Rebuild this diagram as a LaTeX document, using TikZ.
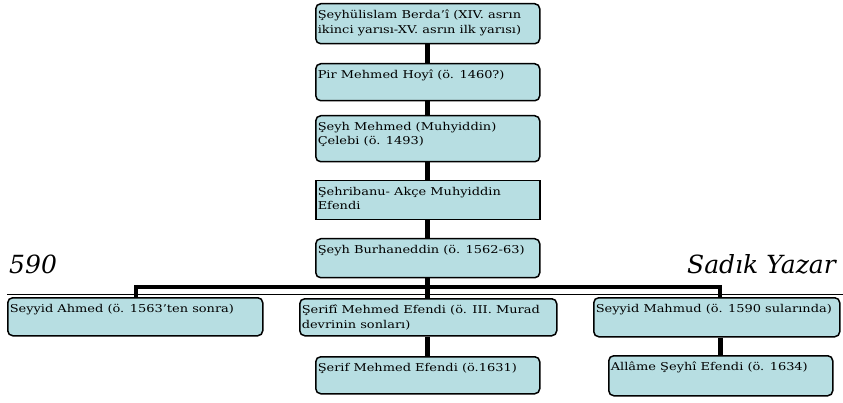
\documentclass[tikz,border=0pt]{standalone}
\usepackage{fontspec}
\setmainfont{DejaVu Serif}[FakeStretch=1.2]
\newfontfamily\headfont{DejaVu Serif}
\definecolor{boxcyan}{RGB}{183,222,226}
\newcommand{\celltext}[3]{\parbox[t][#2][t]{#1}{#3}}
\tikzset{
  pbox/.style={draw, line width=1.5pt, rounded corners=5pt, fill=boxcyan,
    anchor=north west, inner xsep=2pt, inner ysep=6.5pt,
    font=\fontsize{10.8}{14.5}\selectfont},
  sbox/.style={pbox, sharp corners},
  trunk/.style={line width=5pt},
  bus/.style={line width=4pt},
  headtext/.style={font=\headfont\fontsize{25}{25}\selectfont\itshape, inner sep=0pt},
}

\begin{document}
\begin{tikzpicture}[x=1pt,y=-1pt]
  \useasboundingbox (0,0) rectangle (843,403);
  % page header
  \node[headtext, anchor=base west] (pg) at (9,273) {590};
  \node[headtext, anchor=base east] (au) at (836,273) {Sadık Yazar};
  \coordinate (ruleL) at (7,294.5);
  \coordinate (ruleR) at (843,294.5);
  % line of descent
  \node[pbox] (b1) at (315,3) {\celltext{220pt}{27pt}{Şeyhülislam Berda'î (XIV. asrın\\ikinci yarısı-XV. asrın ilk yarısı)}};
  \node[pbox] (b2) at (315,63) {\celltext{220pt}{24pt}{Pir Mehmed Hoyî (ö. 1460?)}};
  \node[pbox] (b3) at (315,115) {\celltext{220pt}{33pt}{Şeyh Mehmed (Muhyiddin)\\Çelebi (ö. 1493)}};
  \node[sbox] (b4) at (315,180) {\celltext{220pt}{26pt}{Şehribanu- Akçe Muhyiddin\\Efendi}};
  \node[pbox] (b5) at (315,238) {\celltext{220pt}{26pt}{Şeyh Burhaneddin (ö. 1562-63)}};
  % sons
  \node[pbox] (c1) at (7,297) {\celltext{251pt}{25pt}{Seyyid Ahmed (ö. 1563’ten sonra)}};
  \node[pbox] (c2) at (299,298) {\celltext{253pt}{24pt}{Şerifî Mehmed Efendi (ö. III. Murad\\devrinin sonları)}};
  \node[pbox] (c3) at (593,297) {\celltext{242pt}{26pt}{Seyyid Mahmud (ö. 1590 sularında)}};
  % grandsons
  \node[pbox] (d2) at (315,356) {\celltext{220pt}{24pt}{Şerif Mehmed Efendi (ö.1631)}};
  \node[pbox] (d3) at (608,355) {\celltext{220pt}{27pt}{Allâme Şeyhî Efendi (ö. 1634)}};
  % connectors
  \draw[trunk] (b1.south) -- (b2.north);
  \draw[trunk] (b2.south) -- (b3.north);
  \draw[trunk] (b3.south) -- (b4.north);
  \draw[trunk] (b4.south) -- (b5.north);
  \coordinate (busL) at (135.5,287);
  \coordinate (busR) at (720,287);
  \draw[bus] (busL) -- (busR);
  \draw[bus] ([yshift=2pt]busL) -- (c1.north -| busL);
  \draw[bus] ([yshift=2pt]busR) -- (c3.north -| busR);
  \draw[trunk] (b5.south) -- (c2.north -| b5.south);
  \draw[trunk] (c2.south -| b5.south) -- (d2.north);
  \draw[trunk] (c3.south -| d3.north) -- (d3.north);
  \draw[line width=1.4pt] (ruleL) -- (ruleR);
\end{tikzpicture}
\end{document}
